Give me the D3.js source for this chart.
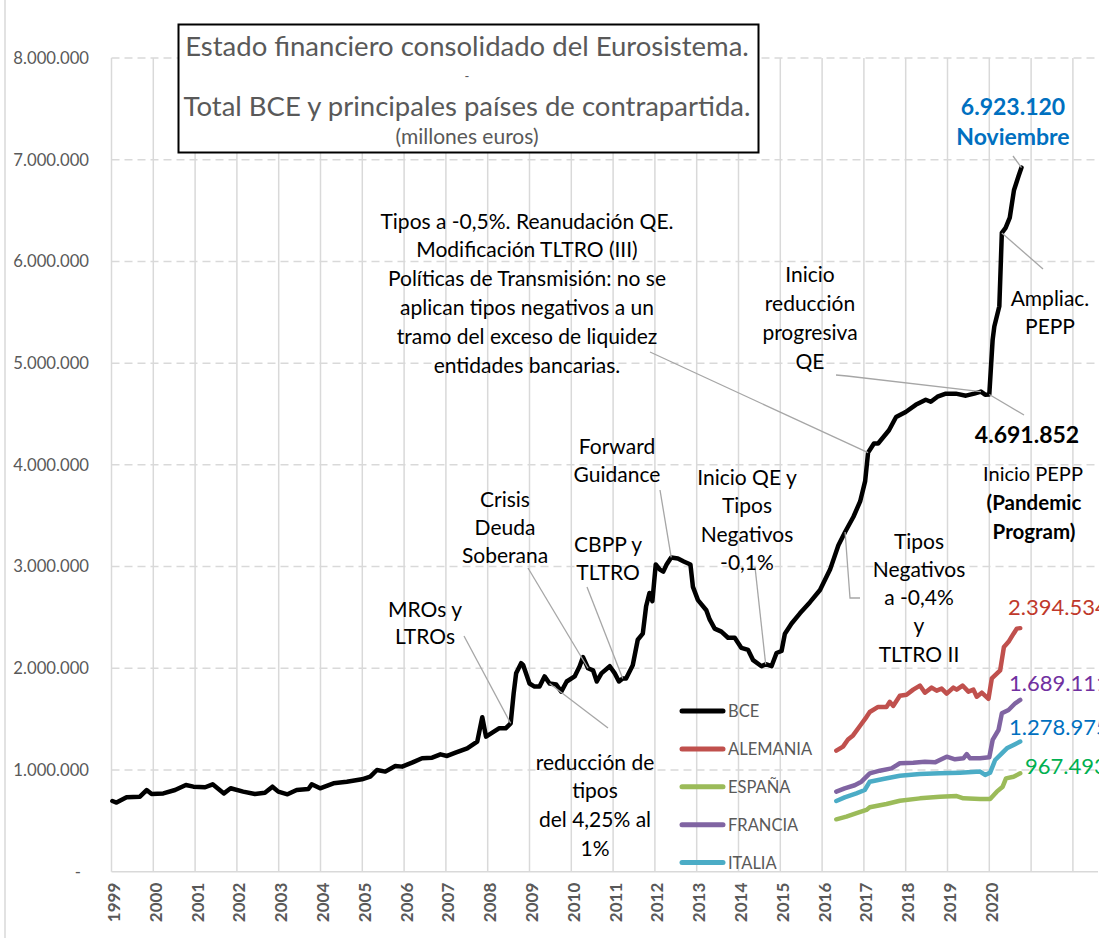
<!DOCTYPE html>
<html>
<head>
<meta charset="utf-8">
<script src="https://cdn.jsdelivr.net/npm/d3@7"></script>
<style>
  body { margin: 0; background: #fff; }
  svg { display: block; font-family: Lato, "Open Sans", sans-serif; }
</style>
</head>
<body>
<svg id="chart" width="1099" height="938"></svg>
<script>
// Values (millones de euros), dates as decimal years
const bceYears = [1999.02, 1999.12, 1999.36, 1999.68, 1999.84, 1999.96, 2000.24, 2000.52, 2000.78, 2000.96,
  2001.24, 2001.42, 2001.69, 2001.85, 2002.15, 2002.43, 2002.67, 2002.85, 2002.99, 2003.21,
  2003.43, 2003.71, 2003.79, 2003.99, 2004.31, 2004.63, 2004.99, 2005.19, 2005.35, 2005.55,
  2005.79, 2005.95, 2006.19, 2006.43, 2006.67, 2006.87, 2007.03, 2007.23, 2007.51, 2007.75,
  2007.87, 2007.96, 2008.11, 2008.27, 2008.43, 2008.55, 2008.62, 2008.68, 2008.8, 2008.85,
  2009.0, 2009.12, 2009.24, 2009.36, 2009.48, 2009.64, 2009.76, 2009.89, 2010.08, 2010.2,
  2010.28, 2010.4, 2010.52, 2010.61, 2010.72, 2010.92, 2011.04, 2011.14, 2011.23, 2011.31,
  2011.47, 2011.59, 2011.71, 2011.79, 2011.87, 2011.94, 2012.02, 2012.12, 2012.2, 2012.28,
  2012.39, 2012.55, 2012.69, 2012.85, 2012.91, 2013.03, 2013.23, 2013.31, 2013.43, 2013.59,
  2013.75, 2013.91, 2014.07, 2014.23, 2014.35, 2014.55, 2014.65, 2014.79, 2014.91, 2015.03,
  2015.11, 2015.27, 2015.47, 2015.71, 2015.95, 2016.19, 2016.39, 2016.55, 2016.75, 2016.91,
  2017.03, 2017.1, 2017.24, 2017.34, 2017.6, 2017.77, 2018.0, 2018.24, 2018.48, 2018.6,
  2018.76, 2018.96, 2019.2, 2019.44, 2019.64, 2019.8, 2019.9, 2020.0, 2020.08, 2020.12,
  2020.24, 2020.3, 2020.39, 2020.49, 2020.59, 2020.7, 2020.77];
const bceValues = [695000, 680000, 731000, 738000, 803000, 764000, 770000, 803000, 852000, 836000,
  830000, 859000, 770000, 820000, 787000, 764000, 777000, 836000, 787000, 761000,
  803000, 813000, 859000, 820000, 869000, 885000, 908000, 934000, 1000000, 984000,
  1039000, 1033000, 1072000, 1115000, 1121000, 1154000, 1138000, 1170000, 1213000, 1279000,
  1518000, 1328000, 1367000, 1410000, 1410000, 1459000, 1750000, 1950000, 2050000, 2030000,
  1850000, 1820000, 1820000, 1920000, 1850000, 1840000, 1770000, 1870000, 1920000, 2020000,
  2110000, 2000000, 1980000, 1870000, 1950000, 2020000, 1950000, 1870000, 1900000, 1900000,
  2030000, 2280000, 2340000, 2610000, 2740000, 2660000, 3020000, 2970000, 2950000, 3020000,
  3090000, 3080000, 3050000, 3020000, 2800000, 2670000, 2570000, 2480000, 2390000, 2360000,
  2300000, 2300000, 2200000, 2180000, 2080000, 2020000, 2040000, 2020000, 2150000, 2170000,
  2340000, 2440000, 2540000, 2650000, 2770000, 2970000, 3210000, 3340000, 3490000, 3640000,
  3840000, 4120000, 4210000, 4210000, 4340000, 4470000, 4520000, 4590000, 4640000, 4620000,
  4670000, 4700000, 4700000, 4680000, 4700000, 4720000, 4690000, 4691852, 5230000, 5360000,
  5560000, 6280000, 6330000, 6430000, 6700000, 6840000, 6923120];

const alemaniaYears = [2016.34, 2016.5, 2016.62, 2016.74, 2016.9, 2017.06, 2017.14, 2017.34, 2017.54, 2017.62,
  2017.7, 2017.86, 2018.02, 2018.18, 2018.34, 2018.46, 2018.62, 2018.74, 2018.86, 2018.98,
  2019.14, 2019.22, 2019.36, 2019.5, 2019.62, 2019.7, 2019.82, 2019.98, 2020.06, 2020.26,
  2020.35, 2020.46, 2020.58, 2020.66, 2020.74];
const alemaniaValues = [1190000, 1230000, 1300000, 1340000, 1430000, 1520000, 1570000, 1620000, 1620000, 1670000,
  1630000, 1730000, 1740000, 1790000, 1830000, 1760000, 1810000, 1780000, 1800000, 1750000,
  1810000, 1790000, 1830000, 1770000, 1790000, 1720000, 1760000, 1700000, 1900000, 1980000,
  2210000, 2260000, 2340000, 2390000, 2394534];

const franciaYears = [2016.34, 2016.54, 2016.78, 2016.94, 2017.14, 2017.38, 2017.66, 2017.86, 2018.18, 2018.46,
  2018.7, 2018.98, 2019.18, 2019.38, 2019.46, 2019.54, 2019.78, 2020.0, 2020.08, 2020.22,
  2020.3, 2020.46, 2020.62, 2020.74];
const franciaValues = [787000, 820000, 850000, 885000, 967000, 993000, 1016000, 1066000, 1072000, 1082000,
  1075000, 1131000, 1105000, 1115000, 1157000, 1115000, 1115000, 1125000, 1295000, 1393000,
  1557000, 1590000, 1656000, 1689111];

const italiaYears = [2016.34, 2016.54, 2016.82, 2017.02, 2017.14, 2017.46, 2017.86, 2018.34, 2018.82, 2019.3,
  2019.78, 2019.9, 2020.02, 2020.14, 2020.3, 2020.42, 2020.58, 2020.74];
const italiaValues = [695000, 731000, 770000, 803000, 885000, 911000, 944000, 961000, 967000, 974000,
  984000, 951000, 974000, 1098000, 1164000, 1213000, 1246000, 1278975];

const espanaYears = [2016.34, 2016.58, 2016.86, 2017.06, 2017.14, 2017.54, 2017.86, 2018.34, 2018.82, 2019.22,
  2019.38, 2019.78, 2020.02, 2020.18, 2020.32, 2020.4, 2020.58, 2020.74];
const espanaValues = [515000, 541000, 580000, 607000, 633000, 666000, 698000, 721000, 738000, 744000,
  721000, 715000, 715000, 787000, 836000, 918000, 934000, 967493];

const seriesNames = ["BCE", "ALEMANIA", "ESPAÑA", "FRANCIA", "ITALIA"];
const seriesColors = ["#000000", "#C0504D", "#9BBB59", "#8064A2", "#4BACC6"];
const yearLabels = d3.range(1999, 2021);
const yTicks = [0, 1000000, 2000000, 3000000, 4000000, 5000000, 6000000, 7000000, 8000000];

const zip = (ys, vs) => ys.map((d, i) => ({ year: d, value: vs[i] }));
const bce = zip(bceYears, bceValues);
const series = [
  bce,
  zip(alemaniaYears, alemaniaValues),
  zip(espanaYears, espanaValues),
  zip(franciaYears, franciaValues),
  zip(italiaYears, italiaValues)
];

const svg = d3.select("#chart");
const x = d3.scaleLinear().domain([1999, 2022]).range([111.5, 1072.9]);
const y = d3.scaleLinear().domain([0, 8000000]).range([871.7, 58]);
const plotRight = 1098;
const grey = "#d9d9d9";

// chart area border (only the left edge is in frame)
svg.append("rect").attr("x", 5).attr("y", -10).attr("width", 1200).attr("height", 1200)
  .attr("fill", "none").attr("stroke", grey).attr("stroke-width", 1.5);

// gridlines
svg.append("g").selectAll("line").data(yTicks.filter(d => d > 0)).join("line")
  .attr("x1", x(1999)).attr("x2", plotRight)
  .attr("y1", d => y(d)).attr("y2", d => y(d))
  .attr("stroke", grey).attr("stroke-width", 1.5).attr("stroke-dasharray", "8,5");

svg.append("g").selectAll("line").data(d3.range(1999, 2023)).join("line")
  .attr("x1", d => x(d)).attr("x2", d => x(d))
  .attr("y1", y(8000000)).attr("y2", y(0))
  .attr("stroke", grey).attr("stroke-width", 1.5);

svg.append("line").attr("x1", x(1999)).attr("x2", plotRight).attr("y1", y(0)).attr("y2", y(0))
  .attr("stroke", grey).attr("stroke-width", 1.5);

// axes
const esFormat = d3.formatLocale({ decimal: ",", thousands: ".", grouping: [3], currency: ["", " €"] }).format(",d");

const yAxis = svg.append("g").attr("transform", `translate(${x(1999)},0)`)
  .call(d3.axisLeft(y).tickValues(yTicks).tickSize(0).tickPadding(22.5)
    .tickFormat(d => d === 0 ? "-" : esFormat(d)));
yAxis.select(".domain").remove();
yAxis.selectAll("text").style("font-size", "16.7px").attr("fill", "#595959").attr("font-family", "Lato");
yAxis.selectAll("text").filter(d => d === 0).attr("dx", -8);

const xAxis = svg.append("g").attr("transform", `translate(0,${y(0)})`)
  .call(d3.axisBottom(x).tickValues(yearLabels).tickSize(0).tickFormat(d3.format("d")));
xAxis.select(".domain").remove();
xAxis.selectAll("text")
  .attr("transform", "rotate(-90)")
  .attr("text-anchor", "end")
  .attr("x", -11).attr("y", 1.8).attr("dy", "0.36em")
  .attr("fill", "#595959").attr("font-family", "Lato")
  .style("font-size", "17px").style("font-weight", "bold");

// lines
const line = d3.line().x(d => x(d.year)).y(d => y(d.value));
svg.append("g").selectAll("path").data(series.slice().reverse()).join("path")
  .attr("d", line)
  .attr("fill", "none")
  .attr("stroke", (d, i) => seriesColors[series.length - 1 - i])
  .attr("stroke-width", 4.5)
  .attr("stroke-linejoin", "round")
  .attr("stroke-linecap", "round");

// legend
const legend = svg.append("g");
seriesNames.forEach((name, i) => {
  const ly = 711 + i * 37.9;
  legend.append("line").attr("x1", 682).attr("x2", 723).attr("y1", ly).attr("y2", ly)
    .attr("stroke", seriesColors[i]).attr("stroke-width", 5).attr("stroke-linecap", "round");
  legend.append("text").attr("x", 728).attr("y", ly).attr("dy", "0.36em")
    .attr("fill", "#595959").style("font-size", "16.5px").text(name);
});

// end values of the countries (clipped by the right edge, as in the original)
const endLabels = [
  { s: 1, color: "#C0392B", x: 1008, y: 607 },
  { s: 3, color: "#7030A0", x: 1009, y: 683 },
  { s: 4, color: "#0070C0", x: 1009, y: 727 },
  { s: 2, color: "#00B050", x: 1025, y: 766 }
];
svg.append("g").selectAll("text").data(endLabels).join("text")
  .attr("x", d => d.x).attr("y", d => d.y).attr("dy", "0.36em")
  .attr("fill", d => d.color).style("font-size", "22px")
  .text(d => esFormat(series[d.s][series[d.s].length - 1].value));

// title box
const title = svg.append("g");
title.append("rect").attr("x", 178.5).attr("y", 24.5).attr("width", 580).attr("height", 128)
  .attr("fill", "#fff").attr("stroke", "#000").attr("stroke-width", 2);
[["Estado financiero consolidado del Eurosistema.", 46, 27.5],
 ["-", 76, 13],
 ["Total BCE y principales países de contrapartida.", 106, 27.5],
 ["(millones euros)", 136.5, 21]].forEach(([t, ty, fs]) => {
  title.append("text").attr("x", 467).attr("y", ty).attr("dy", "0.36em")
    .attr("text-anchor", "middle").attr("fill", "#595959").style("font-size", fs + "px").text(t);
});

// annotations
const nearest = yr => bce.reduce((a, b) => Math.abs(b.year - yr) < Math.abs(a.year - yr) ? b : a);
const notes = [
  { lines: ["Tipos a -0,5%. Reanudación QE.", "Modificación TLTRO (III)", "Políticas de Transmisión: no se",
      "aplican tipos negativos a un", "tramo del exceso de liquidez", "entidades bancarias."],
    cx: 527, cy: 221, lh: 28.8, path: [[650, 352]], target: 2017.1 },
  { lines: ["Inicio", "reducción", "progresiva", "QE"], cx: 810, cy: 274, lh: 29.3,
    path: [[836, 375], [847, 376]], target: 2019.8 },
  { lines: ["Forward", "Guidance"], cx: 617, cy: 446, lh: 28.5, path: [[660, 490]], target: 2012.39 },
  { lines: ["Inicio QE y", "Tipos", "Negativos", "-0,1%"], cx: 747, cy: 477, lh: 28.5,
    path: [[755, 567]], target: 2014.65 },
  { lines: ["Crisis", "Deuda", "Soberana"], cx: 505, cy: 499, lh: 28, path: [[528, 568]], target: 2010.4 },
  { lines: ["CBPP y", "TLTRO"], cx: 608, cy: 544, lh: 28, path: [[587, 587]], target: 2011.23 },
  { lines: ["MROs y", "LTROs"], cx: 425, cy: 609, lh: 27.5, path: [[464, 636]], target: 2008.55 },
  { lines: ["reducción de", "tipos", "del 4,25% al", "1%"], cx: 595, cy: 762, lh: 28.7,
    path: [[608, 728]], target: 2009.48 },
  { lines: ["Tipos", "Negativos", "a -0,4%", "y", "TLTRO II"], cx: 919, cy: 541, lh: 28.3,
    path: [[860, 598], [850, 598]], target: 2016.55 },
  { lines: ["Ampliac.", "PEPP"], cx: 1050, cy: 298, lh: 28, path: [[1043, 269]], target: 2020.3 },
  { lines: ["Inicio PEPP"], cx: 1033, cy: 474, lh: 29, size: 20, path: null },
  { lines: ["(Pandemic", "Program)"], cx: 1034, cy: 503, lh: 29, bold: true, size: 20.5, path: null },
  { lines: ["4.691.852"], cx: 1027, cy: 435, lh: 29, bold: true, size: 23, path: [[1024, 415]], target: 2020.0 },
  { lines: ["6.923.120", "Noviembre"], cx: 1013, cy: 107, lh: 30, bold: true, size: 23, color: "#0070C0",
    path: [[1013, 156]], target: 2020.77 }
];

const leaders = svg.append("g");
const labels = svg.append("g");
notes.forEach(n => {
  if (n.path) {
    const p = nearest(n.target);
    const pts = n.path.concat([[x(p.year), y(p.value)]]);
    leaders.append("path").attr("d", d3.line()(pts))
      .attr("fill", "none").attr("stroke", "#a6a6a6").attr("stroke-width", 1.3);
  }
  n.lines.forEach((t, i) => {
    labels.append("text").attr("x", n.cx).attr("y", n.cy + i * n.lh).attr("dy", "0.36em")
      .attr("text-anchor", "middle")
      .attr("fill", n.color || "#000")
      .style("font-size", (n.size || 21) + "px")
      .style("font-weight", n.bold ? "bold" : "normal")
      .text(t);
  });
});
</script>
</body>
</html>
